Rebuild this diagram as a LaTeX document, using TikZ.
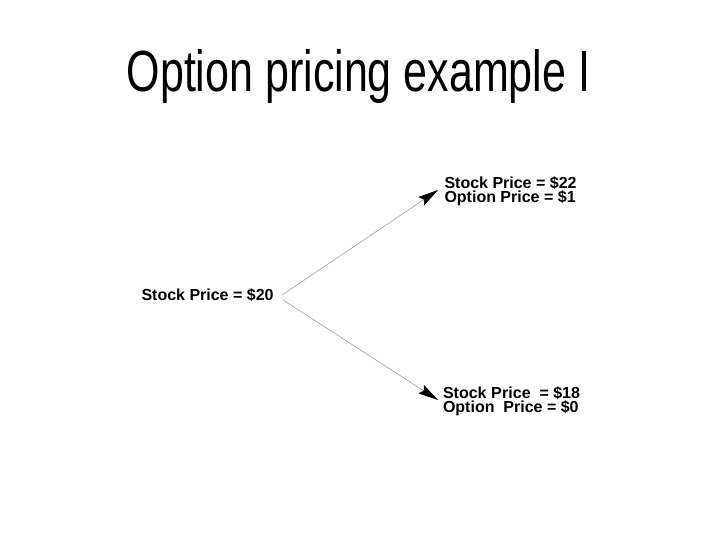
\documentclass[tikz,border=0pt]{standalone}
\usepackage{fontspec}
\setmainfont{Liberation Sans}
\usetikzlibrary{arrows.meta}
\begin{document}
\begin{tikzpicture}[x=1pt,y=-1pt,
  lbl/.style={inner sep=0pt,outer sep=0pt,anchor=base west,font=\fontsize{16}{14}\selectfont\bfseries,align=left},
  conn/.style={draw={rgb,255:red,160;green,160;blue,160},line width=0.6pt,
     -{Stealth[length=20pt,width=10pt,inset=3pt,color=black,fill=black]}}]
\useasboundingbox (0,0) rectangle (720,540);
\node[inner sep=0pt,anchor=base,font=\fontsize{43}{43}\selectfont,yscale=1.35] (title) at (358.5,92) {Option pricing example I};
\node[lbl] (s20) at (141.5,300) {Stock Price = \$20};
\node[lbl] (up) at (444.5,203) {Stock Price = \$22\\Option Price = \$1};
\node[lbl] (down) at (443,412) {Stock P\kern0.5pt rice \ = \$18\\Option \ Price = \$0};
\coordinate (a) at (282,295);
\coordinate (b) at (283,300);
\coordinate (tu) at (438,190);
\coordinate (td) at (438,400);
\draw[conn] (a) -- (tu);
\draw[conn] (b) -- (td);
\end{tikzpicture}
\end{document}
